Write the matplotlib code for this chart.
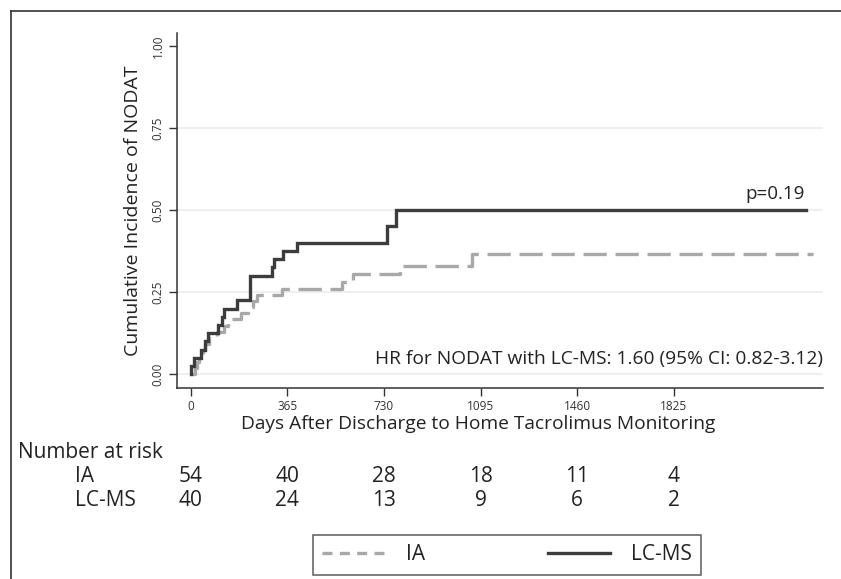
import numpy as np
import matplotlib
matplotlib.use("Agg")
import matplotlib.pyplot as plt
from matplotlib.lines import Line2D

plt.rcParams['font.family'] = ['Open Sans', 'DejaVu Sans']
NARROW = ['Liberation Sans Narrow', 'Open Sans', 'DejaVu Sans']

# cumulative incidence step curves (days, value)
ia_days = [0, 16, 22, 30, 45, 55, 68, 100, 125, 140, 190, 215, 235, 250, 345, 570, 612, 792, 1062, 2350]
ia_inc = [0, 0.019, 0.037, 0.056, 0.074, 0.093, 0.111, 0.13, 0.148, 0.167, 0.185, 0.204, 0.222,
          0.241, 0.259, 0.282, 0.305, 0.33, 0.365, 0.365]
lc_days = [0, 2, 14, 38, 53, 66, 104, 117, 124, 176, 224, 306, 316, 348, 400, 742, 774, 2324]
lc_inc = [0, 0.025, 0.05, 0.075, 0.10, 0.125, 0.15, 0.175, 0.20, 0.225, 0.30, 0.325, 0.35,
          0.375, 0.40, 0.45, 0.50, 0.50]

xticks = [0, 365, 730, 1095, 1460, 1825]
yticks = [0, 0.25, 0.5, 0.75, 1.0]
risk_ia = [54, 40, 28, 18, 11, 4]
risk_lc = [40, 24, 13, 9, 6, 2]

DARK = "#3c3c3c"
GRAY = "#a8a8a8"
TXT = "#222222"
W, H = 841, 579

fig = plt.figure(figsize=(W / 100, H / 100), dpi=100)
ax = fig.add_axes([177 / W, 1 - 388 / H, (823 - 177) / W, (388 - 33) / H])

for y in yticks[:-1]:
    ax.axhline(y, color="#ececec", lw=1.2, zorder=0)

ax.plot(ia_days, ia_inc, drawstyle="steps-post", color=GRAY, lw=2.4,
        dashes=(7, 2.6), label="IA")
ax.plot(lc_days, lc_inc, drawstyle="steps-post", color=DARK, lw=2.4,
        solid_joinstyle="miter", label="LC-MS")

ax.set_xlim(-52, 2389)
ax.set_ylim(-0.042, 1.039)
for s in ["top", "right"]:
    ax.spines[s].set_visible(False)
for s in ["left", "bottom"]:
    ax.spines[s].set_color("#333333")
    ax.spines[s].set_linewidth(1.1)

ax.set_xticks(xticks)
ax.set_yticks(yticks)
ax.set_yticklabels([f"{v:.2f}" for v in yticks], rotation=90, va="center")
ax.tick_params(axis="both", length=6, width=1, color="#333333", labelsize=8.5,
               labelcolor="#333333", pad=3)

ax.set_xlabel("Days After Discharge to Home Tacrolimus Monitoring", fontsize=13.8,
              color=TXT)
ax.xaxis.set_label_coords((478 - 177) / 646, -(424 - 388) / 355)
ax.xaxis.label.set_va("center")
ax.set_ylabel("Cumulative Incidence of NODAT", fontsize=14, color=TXT, labelpad=7)

ax.text((805 - 177) / 646, (388 - 203) / 355, "p=0.19", transform=ax.transAxes,
        ha="right", va="bottom", fontsize=13.5, color=TXT)
ax.text(1.0, (388 - 359) / 355, "HR for NODAT with LC-MS: 1.60 (95% CI: 0.82-3.12)",
        transform=ax.transAxes, ha="right", va="center", fontsize=13.8, color=TXT)

# number at risk table
tr = ax.get_xaxis_transform()
pos = ax.get_position()
fig.text(18 / W, 1 - 453 / H, "Number at risk", fontsize=15, va="center", color=TXT,
         family=NARROW)
fig.text(75 / W, 1 - 477 / H, "IA", fontsize=15, va="center", color=TXT, family=NARROW)
fig.text(75 / W, 1 - 500 / H, "LC-MS", fontsize=15, va="center", color=TXT, family=NARROW)
y_ia = (1 - 477 / H - pos.y0) / pos.height
y_lc = (1 - 500 / H - pos.y0) / pos.height
for t, a, b in zip(xticks, risk_ia, risk_lc):
    ax.text(t, y_ia, str(a), transform=tr, ha="center", va="center", fontsize=15,
            color=TXT, clip_on=False, family=NARROW)
    ax.text(t, y_lc, str(b), transform=tr, ha="center", va="center", fontsize=15,
            color=TXT, clip_on=False, family=NARROW)

handles = [Line2D([], [], color=GRAY, lw=2.4, dashes=(3, 2.2)),
           Line2D([], [], color=DARK, lw=2.4)]
leg = fig.legend(handles, ["IA", "LC-MS"], loc="center",
                 bbox_to_anchor=(507 / W, 1 - 555 / H), ncol=2,
                 prop={"family": NARROW, "size": 15},
                 handlelength=3.0, columnspacing=5.9, handletextpad=1.0,
                 frameon=True, fancybox=False, borderpad=0.45, borderaxespad=0)
leg.get_frame().set_edgecolor("#333333")
leg.get_frame().set_linewidth(1.1)
for t in leg.get_texts():
    t.set_color(TXT)

# outer frame
fig.add_artist(Line2D([11 / W, 11 / W], [0, 1 - 11 / H], color="#333333", lw=1.2))
fig.add_artist(Line2D([11 / W, 1], [1 - 11 / H, 1 - 11 / H], color="#333333", lw=1.2))

fig.savefig("out.png", dpi=100)
